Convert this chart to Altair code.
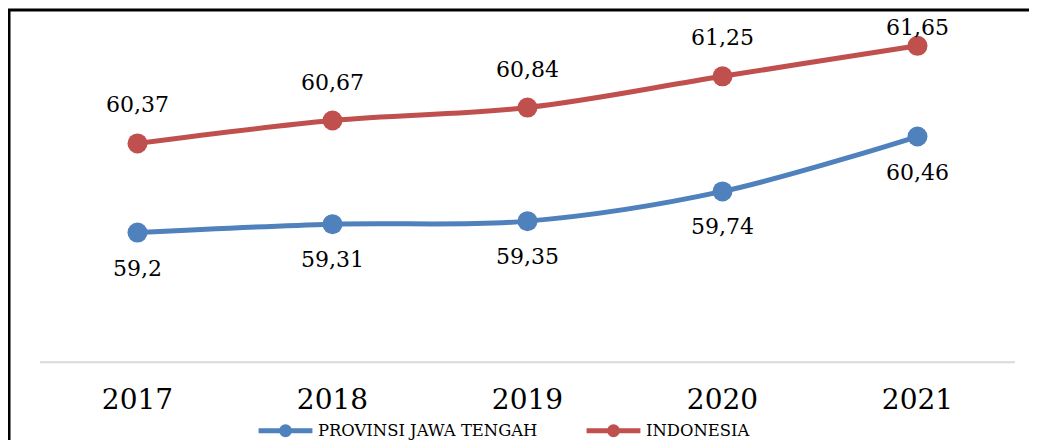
import altair as alt
import pandas as pd

years = ["2017", "2018", "2019", "2020", "2021"]
jateng = [59.2, 59.31, 59.35, 59.74, 60.46]
indonesia = [60.37, 60.67, 60.84, 61.25, 61.65]
series_names = ["PROVINSI JAWA TENGAH", "INDONESIA"]
series_colors = ["#4F81BD", "#C0504D"]
baseline_value = 57.5

rows = []
for name, vals in zip(series_names, [jateng, indonesia]):
    for yr, v in zip(years, vals):
        rows.append({"year": yr, "series": name, "value": v})
df = pd.DataFrame(rows)
df_base = pd.DataFrame({"year": years, "base": [baseline_value] * len(years)})

W, H = 1040, 450
FONT = "DejaVu Serif"
LEGEND_PATH = ("M-1,0L1,0"
               "M-0.148,0A0.148,0.148,0,1,0,0.148,0A0.148,0.148,0,1,0,-0.148,0"
               "M-0.056,0A0.056,0.056,0,1,0,0.056,0A0.056,0.056,0,1,0,-0.056,0")

xscale = alt.Scale(type="band", paddingInner=0, paddingOuter=0.16667, align=0.4769)
yscale = alt.Scale(domain=[56.216, 62.12], zero=False, nice=False)
xaxis = alt.Axis(title=None, orient="bottom", domain=False, ticks=False, grid=False,
                 labelPadding=0, labelBaseline="alphabetic", labelAlign="center", offset=-52,
                 labelFont=FONT, labelFontSize=28, labelColor="black", labelAngle=0)
x_enc = alt.X("year:N", sort=years, scale=xscale, axis=xaxis)
y_enc = alt.Y("value:Q", scale=yscale, axis=None)
cscale = alt.Scale(domain=series_names, range=series_colors)
leg = alt.Legend(title=None, orient="none", legendX=247, legendY=391, direction="horizontal",
                 symbolType=LEGEND_PATH, symbolSize=2900, symbolStrokeWidth=5, symbolOpacity=1,
                 labelFont=FONT, labelFontSize=16.4, labelColor="black", labelOffset=3,
                 labelLimit=0, columnPadding=38, padding=0)
color = alt.Color("series:N", scale=cscale, legend=leg)

base = alt.Chart(df).encode(x=x_enc, y=y_enc)

baseline = alt.Chart(df_base).mark_tick(color="#D9D9D9", size=195, thickness=2, opacity=1).encode(
    x=x_enc, y=alt.Y("base:Q", scale=yscale, axis=None))

lines = base.mark_line(strokeWidth=5, interpolate="catmull-rom").encode(color=color)
points = base.mark_point(shape="circle", size=400, filled=True, opacity=1).encode(color=color)

lab = "replace(toString(datum.value), '.', ',')"
txt = dict(font=FONT, fontSize=22, color="black", baseline="middle", align="center")
lab_blue = base.transform_filter(alt.datum.series == series_names[0]).transform_calculate(
    label=lab).mark_text(dy=36, **txt).encode(text="label:N")
lab_red = base.transform_filter(
    (alt.datum.series == series_names[1]) & (alt.datum.year != "2021")).transform_calculate(
    label=lab).mark_text(dy=-38, **txt).encode(text="label:N")
lab_red_last = base.transform_filter(
    (alt.datum.series == series_names[1]) & (alt.datum.year == "2021")).transform_calculate(
    label=lab).mark_text(dy=-18, **txt).encode(text="label:N")

chart = alt.layer(
    baseline, lines, points, lab_blue, lab_red, lab_red_last
).properties(
    width=W, height=H,
    autosize=alt.AutoSizeParams(type="none"),
    padding={"left": 1, "top": 2, "right": -20, "bottom": -20},
).configure_view(stroke="black", strokeWidth=3)

chart.save("out.html", embed_options={"renderer": "svg", "actions": False})
